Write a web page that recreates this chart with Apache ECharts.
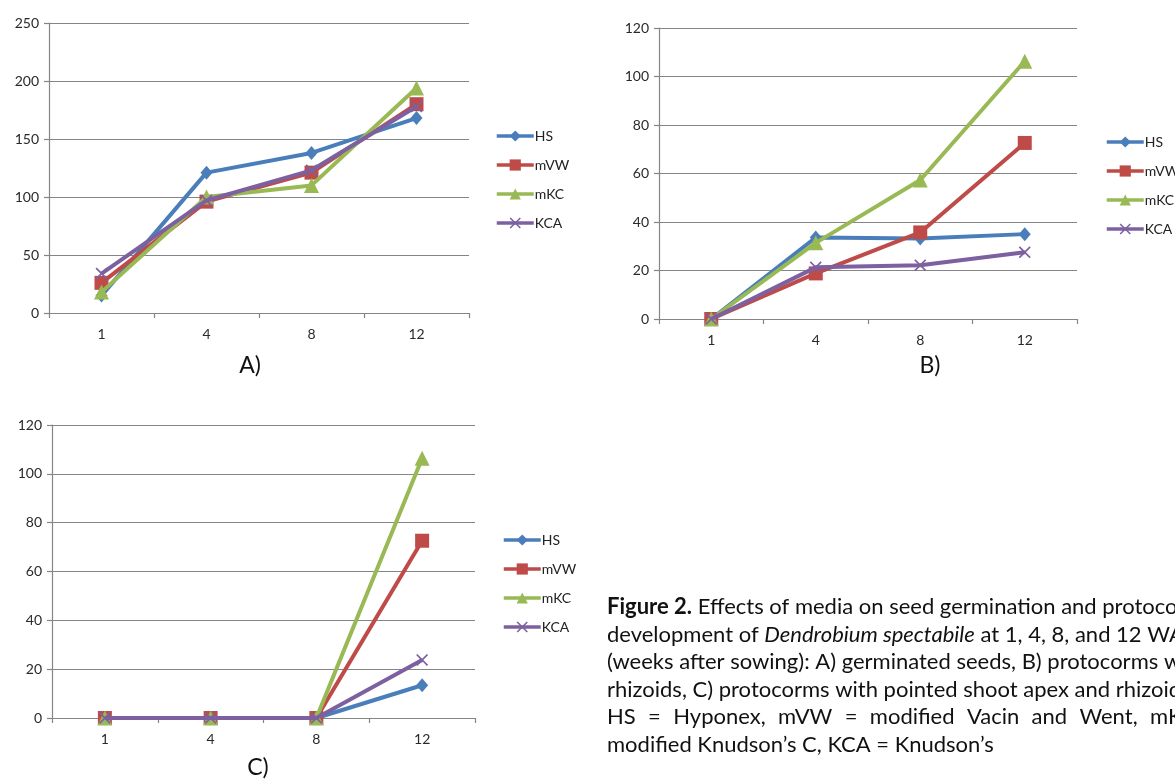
<!DOCTYPE html>
<html><head><meta charset="utf-8">
<script src="https://cdn.jsdelivr.net/npm/echarts@6/dist/echarts.min.js"></script>
<style>html,body{margin:0;padding:0;background:#fff}#c{width:1175px;height:781px}</style>
</head><body><div id="c"></div>
<script>
// ---- data ----
const weeks = ['1', '4', '8', '12'];
const seriesNames = ['HS', 'mVW', 'mKC', 'KCA'];
// A) germinated seeds
const germHS  = [15, 121, 138, 168];
const germMVW = [26, 96, 121, 180];
const germMKC = [18, 100, 110, 194];
const germKCA = [34, 97, 123, 178];
// B) protocorms with rhizoids
const rhizHS  = [0, 33.6, 33.2, 35.0];
const rhizMVW = [0, 18.8, 35.7, 72.6];
const rhizMKC = [0, 31.4, 57.3, 106.3];
const rhizKCA = [0, 21.3, 22.2, 27.5];
// C) protocorms with pointed shoot apex and rhizoids
const shootHS  = [0, 0, 0, 13.4];
const shootMVW = [0, 0, 0, 72.6];
const shootMKC = [0, 0, 0, 106.4];
const shootKCA = [0, 0, 0, 23.8];
const panelLabels = ['A)', 'B)', 'C)'];
const yMaxA = 250, yStepA = 50, yMaxBC = 120, yStepBC = 20;

// ---- styles ----
const colors = ['#4A7EBB', '#BE4B48', '#98B954', '#7D60A0'];
const X_PATH = 'path://M0,1L1,0L5,4L9,0L10,1L6,5L10,9L9,10L5,6L1,10L0,9L4,5Z';
const symbols = ['diamond', 'rect', 'triangle', X_PATH];
const symSizes = [[12, 14], 14, 15, 12];
const FONT = 'Lato';
const gridCol = '#858585';

const panels = [
  {grid: {left: 49, top: 23, width: 420, height: 290}, max: yMaxA, step: yStepA,
   data: [germHS, germMVW, germMKC, germKCA]},
  {grid: {left: 659, top: 28, width: 418, height: 291}, max: yMaxBC, step: yStepBC,
   data: [rhizHS, rhizMVW, rhizMKC, rhizKCA]},
  {grid: {left: 52, top: 425, width: 423, height: 293}, max: yMaxBC, step: yStepBC,
   data: [shootHS, shootMVW, shootMKC, shootKCA]}
];

const grids = [], xAxes = [], yAxes = [], series = [];
panels.forEach((p, i) => {
  grids.push(Object.assign({containLabel: false}, p.grid));
  xAxes.push({
    type: 'category', gridIndex: i, data: weeks, boundaryGap: true,
    axisLine: {lineStyle: {color: gridCol, width: 1.2}},
    axisTick: {show: true, length: 5, lineStyle: {color: gridCol, width: 1.2}},
    axisLabel: {color: '#2a2a2a', fontFamily: FONT, fontSize: 14, margin: 14}
  });
  yAxes.push({
    type: 'value', gridIndex: i, min: 0, max: p.max, interval: p.step,
    axisLine: {show: true, lineStyle: {color: gridCol, width: 1.2}},
    axisTick: {show: true, length: 5, lineStyle: {color: gridCol, width: 1.2}},
    splitLine: {show: true, lineStyle: {color: gridCol, width: 1.2}},
    axisLabel: {color: '#2a2a2a', fontFamily: FONT, fontSize: 14, margin: 10}
  });
  seriesNames.forEach((n, k) => {
    series.push({
      name: n, type: 'line', xAxisIndex: i, yAxisIndex: i, data: p.data[k],
      symbol: symbols[k], symbolSize: symSizes[k], showAllSymbol: true,
      lineStyle: {color: colors[k], width: 4},
      itemStyle: {color: colors[k], borderWidth: 0},
      emphasis: {disabled: true}, animation: false, z: 2 + k
    });
  });
});

const legendBase = {
  data: seriesNames, orient: 'vertical', itemWidth: 37, itemHeight: 14, itemGap: 15,
  lineStyle: {width: 3.5},
  textStyle: {color: '#222', fontFamily: FONT, fontSize: 14, padding: [0, 0, 0, -4]},
  selectedMode: false
};
const legends = [
  Object.assign({left: 490, top: 124}, legendBase),
  Object.assign({left: 1100, top: 130}, legendBase),
  Object.assign({left: 497, top: 528}, legendBase)
];

const capFont = 22, capX = 607;
const capMid = [607, 634.5, 662, 689.5, 717, 744.5];
const rich = {
  b: {fontWeight: 'bold', fontFamily: FONT, fontSize: capFont, fill: '#111'},
  i: {fontStyle: 'italic', fontFamily: FONT, fontSize: capFont, fill: '#111'}
};
const graphic = [];
const panelPos = [[250, 366], [930, 366], [258, 768]];
panelLabels.forEach((t, i) => graphic.push({
  type: 'text', x: panelPos[i][0], y: panelPos[i][1], silent: true,
  style: {text: t, fontFamily: FONT, fontSize: 23, fill: '#111', align: 'center', verticalAlign: 'middle'}
}));
const capLines = [
  '{b|Figure 2.} Effects of media on seed germination and protocorm',
  'development of {i|Dendrobium spectabile} at 1, 4, 8, and 12 WAS',
  '(weeks after sowing): A) germinated seeds, B) protocorms with',
  'rhizoids, C) protocorms with pointed shoot apex and rhizoids.'
];
capLines.forEach((t, i) => graphic.push({
  type: 'text', x: capX, y: capMid[i], silent: true,
  style: {text: t, rich: rich, fontFamily: FONT, fontSize: capFont, fill: '#111', align: 'left', verticalAlign: 'middle'}
}));
// justified line: spread words so that "mKC" starts at justEnd
const justWords = ['HS', '=', 'Hyponex,', 'mVW', '=', 'modified', 'Vacin', 'and', 'Went,', 'mKC', '='];
const justEnd = 1150;
const ctx = document.createElement('canvas').getContext('2d');
ctx.font = capFont + 'px ' + FONT;
const widths = justWords.map(w => ctx.measureText(w).width);
const lastIdx = 9;
let sumW = 0; for (let k = 0; k < lastIdx; k++) sumW += widths[k];
const gap = (justEnd - capX - sumW) / lastIdx;
let cx = capX;
justWords.forEach((w, k) => {
  graphic.push({
    type: 'text', x: cx, y: capMid[4], silent: true,
    style: {text: w, fontFamily: FONT, fontSize: capFont, fill: '#111', align: 'left', verticalAlign: 'middle'}
  });
  cx += widths[k] + gap;
});
graphic.push({
  type: 'text', x: capX, y: capMid[5], silent: true,
  style: {text: 'modified Knudson\u2019s C, KCA = Knudson\u2019s', fontFamily: FONT, fontSize: capFont, fill: '#111', align: 'left', verticalAlign: 'middle'}
});

const chart = echarts.init(document.getElementById('c'), null, {renderer: 'canvas'});
chart.setOption({
  backgroundColor: '#fff', animation: false,
  grid: grids, xAxis: xAxes, yAxis: yAxes, series: series,
  legend: legends, graphic: graphic
});
</script></body></html>
